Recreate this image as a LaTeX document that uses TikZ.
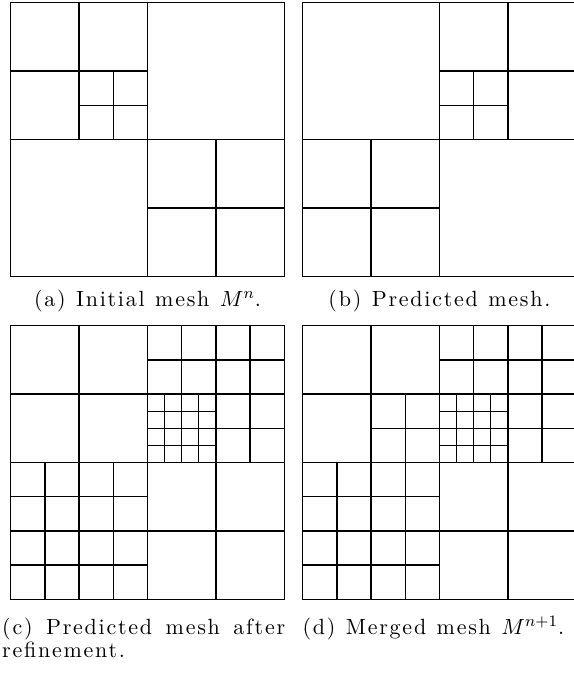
\documentclass[tikz,border=0pt]{standalone}
\usepackage{fontspec}
\newfontfamily\capfont{lmroman10-regular}[Extension=.otf,LetterSpace=8,WordSpace=1.15]
\usepackage{tikz}
\tikzset{
  mesh/.style={line width=0.65pt},
  subcap/.style={inner sep=0pt,font=\capfont\fontsize{11}{10}\selectfont}
}

\begin{document}
\begin{tikzpicture}[x=0.5pt,y=-0.5pt]
\useasboundingbox (0,0) rectangle (573,673);

\begin{scope}[shift={(10.7,2.7)},scale=17.1,mesh]
\draw (0,0) rectangle (16,16);
\draw (8,0)--(8,16) (0,8)--(16,8);
\draw (4,0)--(4,8) (0,4)--(8,4);
\draw (6,4)--(6,8) (4,6)--(8,6);
\draw (12,8)--(12,16) (8,12)--(16,12);
\end{scope}

\begin{scope}[shift={(302.7,2.7)},scale=17.1,mesh]
\draw (0,0) rectangle (16,16);
\draw (8,0)--(8,16) (0,8)--(16,8);
\draw (12,0)--(12,8) (8,4)--(16,4);
\draw (10,4)--(10,8) (8,6)--(12,6);
\draw (4,8)--(4,16) (0,12)--(8,12);
\end{scope}

\begin{scope}[shift={(10.7,325.7)},scale=17.1,mesh]
\draw (0,0) rectangle (16,16);
\draw (8,0)--(8,16) (0,8)--(16,8);
\draw (4,0)--(4,8) (0,4)--(8,4);
\draw (10,0)--(10,8) (12,0)--(12,8) (14,0)--(14,8);
\draw (8,2)--(16,2) (8,4)--(16,4) (8,6)--(16,6);
\draw (9,4)--(9,8) (11,4)--(11,8) (8,5)--(12,5) (8,7)--(12,7);
\draw (2,8)--(2,16) (4,8)--(4,16) (6,8)--(6,16);
\draw (0,10)--(8,10) (0,12)--(8,12) (0,14)--(8,14);
\draw (12,8)--(12,16) (8,12)--(16,12);
\end{scope}

\begin{scope}[shift={(302.7,325.7)},scale=17.1,mesh]
\draw (0,0) rectangle (16,16);
\draw (8,0)--(8,16) (0,8)--(16,8);
\draw (4,0)--(4,8) (0,4)--(8,4);
\draw (6,4)--(6,8) (4,6)--(8,6);
\draw (10,0)--(10,8) (12,0)--(12,8) (14,0)--(14,8);
\draw (8,2)--(16,2) (8,4)--(16,4) (8,6)--(16,6);
\draw (9,4)--(9,8) (11,4)--(11,8) (8,5)--(12,5) (8,7)--(12,7);
\draw (2,8)--(2,16) (4,8)--(4,16) (6,8)--(6,16);
\draw (0,10)--(8,10) (0,12)--(8,12) (0,14)--(8,14);
\draw (12,8)--(12,16) (8,12)--(16,12);
\end{scope}

\node[subcap,anchor=base] (capa) at (147.5,306.3) {(a) Initial mesh $M^n$.};
\node[subcap,anchor=base] (capb) at (439.5,306.3) {(b) Predicted mesh.};
\node[subcap,anchor=base west,text width=141.5pt,align=justify] (capc) at (1.8,634.3)
  {(c) Predicted mesh after\linebreak refinement.};
\node[subcap,anchor=base] (capd) at (433.4,634.3) {(d) Merged mesh $M^{n+1}$.};
\end{tikzpicture}
\end{document}
